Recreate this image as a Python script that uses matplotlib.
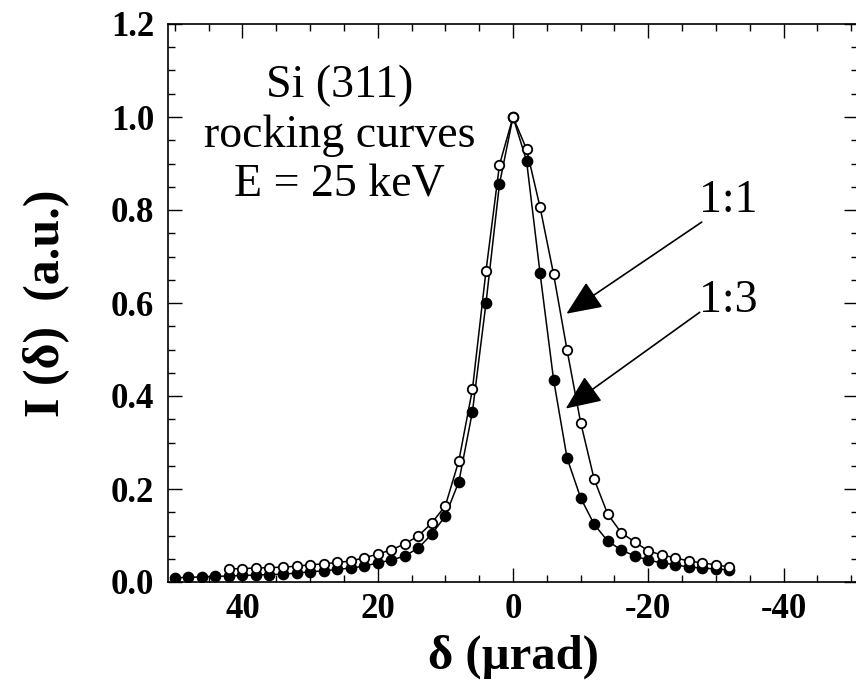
import matplotlib
matplotlib.use("Agg")
import matplotlib.pyplot as plt
from matplotlib.ticker import MultipleLocator, FixedLocator

plt.rcParams['font.family'] = ['Liberation Serif', 'DejaVu Serif']

# Angular offset (µrad) and normalised intensity, Si(311) at 25 keV
delta_11 = [42, 40, 38, 36, 34, 32, 30, 28, 26, 24, 22, 20, 18, 16, 14, 12, 10, 8, 6, 4, 2, 0,
            -2, -4, -6, -8, -10, -12, -14, -16, -18, -20, -22, -24, -26, -28, -30, -32]
inten_11 = [0.028, 0.029, 0.030, 0.031, 0.032, 0.034, 0.037, 0.039, 0.042, 0.045, 0.052,
            0.060, 0.069, 0.082, 0.099, 0.127, 0.164, 0.261, 0.414, 0.668, 0.897, 1.000,
            0.931, 0.806, 0.662, 0.498, 0.343, 0.221, 0.146, 0.106, 0.086, 0.067, 0.058,
            0.052, 0.045, 0.041, 0.037, 0.032]

delta_13 = [50, 48, 46, 44, 42, 40, 38, 36, 34, 32, 30, 28, 26, 24, 22, 20, 18, 16, 14, 12, 10,
            8, 6, 4, 2, 0, -2, -4, -6, -8, -10, -12, -14, -16, -18, -20, -22, -24, -26, -28,
            -30, -32]
inten_13 = [0.009, 0.010, 0.011, 0.012, 0.013, 0.014, 0.015, 0.016, 0.017, 0.019, 0.022,
            0.024, 0.027, 0.030, 0.034, 0.041, 0.047, 0.056, 0.073, 0.103, 0.142, 0.216,
            0.366, 0.599, 0.856, 1.000, 0.906, 0.664, 0.435, 0.266, 0.181, 0.124, 0.088,
            0.069, 0.056, 0.047, 0.041, 0.037, 0.032, 0.030, 0.028, 0.026]

x_ticks = [40, 20, 0, -20, -40]
x_ticklabels = ['40', '20', '0', '-20', '-40']
y_ticks = [0.0, 0.2, 0.4, 0.6, 0.8, 1.0, 1.2]
y_ticklabels = ['0.0', '0.2', '0.4', '0.6', '0.8', '1.0', '1.2']

fig = plt.figure(figsize=(8.56, 6.84), dpi=100)
ax = fig.add_axes([168 / 856, 102 / 684, 690 / 856, 558 / 684])

ax.plot(delta_13, inten_13, color='black', lw=1.1, marker='o', ms=7.4,
        mfc='black', mec='black', zorder=3)
ax.plot(delta_11, inten_11, color='black', lw=1.1, marker='o', ms=6.8,
        mfc='white', mec='black', mew=1.3, zorder=4)

ax.set_xlim(51, -51)
ax.set_ylim(0, 1.2)

ax.xaxis.set_major_locator(FixedLocator(x_ticks))
ax.set_xticklabels(x_ticklabels)
ax.xaxis.set_minor_locator(MultipleLocator(5))
ax.yaxis.set_major_locator(FixedLocator(y_ticks))
ax.set_yticklabels(y_ticklabels)
ax.yaxis.set_minor_locator(MultipleLocator(0.05))

ax.tick_params(which='both', direction='in', top=True, right=True, width=1.0)
ax.tick_params(which='major', length=10)
ax.tick_params(which='minor', length=5)
ax.tick_params(axis='x', which='major', pad=8)
ax.tick_params(axis='y', which='major', pad=10)
for lab in ax.get_xticklabels() + ax.get_yticklabels():
    lab.set_fontsize(25)
    lab.set_fontweight('bold')

for sp in ax.spines.values():
    sp.set_linewidth(1.2)

ax.set_xlabel('δ (µrad)', fontsize=35, fontweight='bold', labelpad=6)
ax.set_ylabel('I (δ)  (a.u.)', fontsize=36, fontweight='bold', labelpad=30)

# Title block inside the axes
ax.text(25.6, 1.043, 'Si (311)', fontsize=33, ha='center', va='baseline')
ax.text(25.6, 0.935, 'rocking curves', fontsize=33, ha='center', va='baseline')
ax.text(25.6, 0.828, 'E = 25 keV', fontsize=33, ha='center', va='baseline')

# Curve labels with pointing arrows
ax.text(-31.8, 0.795, '1:1', fontsize=33, ha='center', va='baseline')
ax.text(-31.8, 0.580, '1:3', fontsize=33, ha='center', va='baseline')
arrow = dict(arrowstyle='-|>,head_length=2.2,head_width=0.95', color='black',
             lw=1.2, shrinkA=0, shrinkB=0)
ax.annotate('', xy=(-7.9, 0.577), xytext=(-27.9, 0.774), arrowprops=arrow)
ax.annotate('', xy=(-7.8, 0.373), xytext=(-27.6, 0.580), arrowprops=arrow)

fig.savefig('out.png', dpi=100)
